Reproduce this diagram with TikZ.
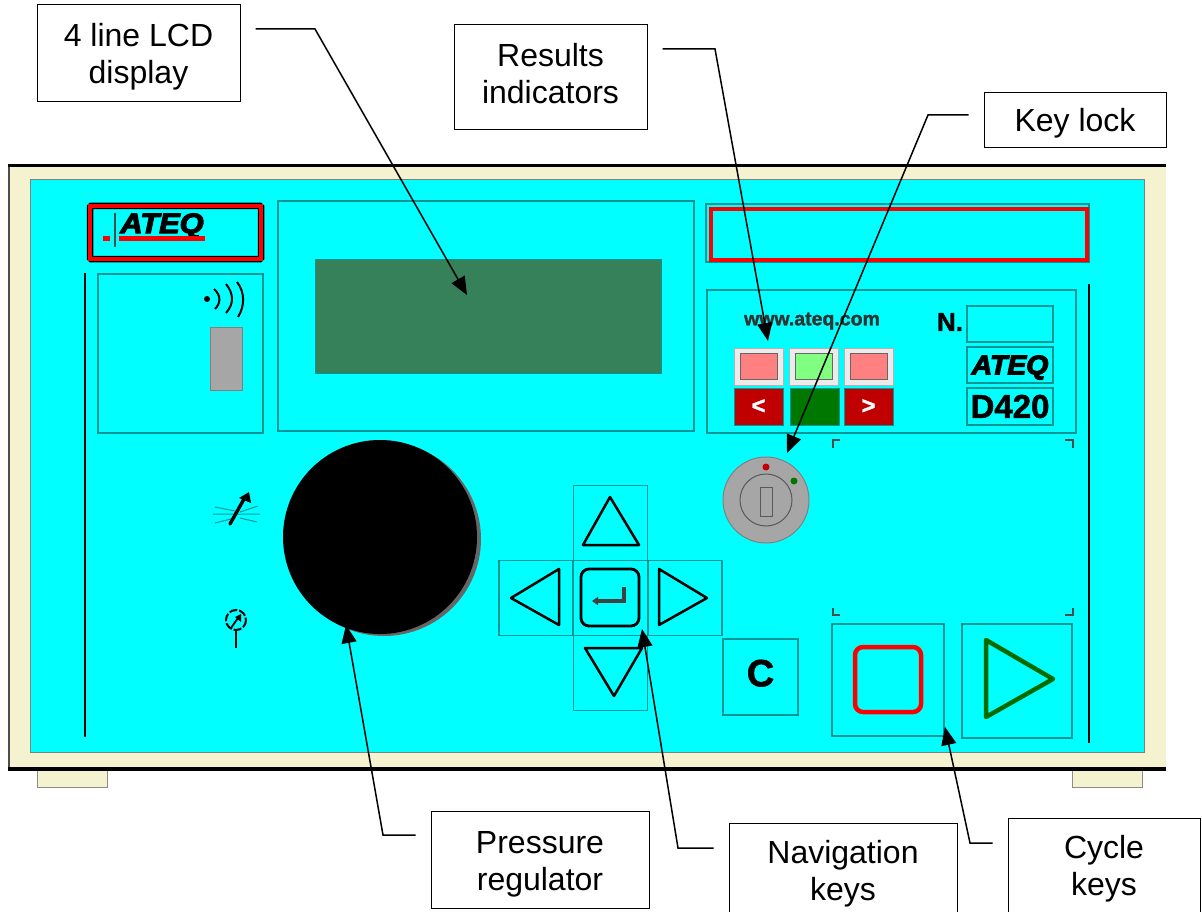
\documentclass[tikz,border=0pt]{standalone}
\usepackage{fontspec}
\usepackage{graphicx}
\setmainfont{Liberation Sans}
\newfontfamily\logofont[BoldFeatures={FakeBold=1.5},BoldItalicFeatures={FakeBold=4}]{Liberation Sans}
\usetikzlibrary{arrows.meta,positioning,calc}
\definecolor{panelcyan}{HTML}{00FFFF}
\definecolor{panelcream}{HTML}{F5F3CF}
\definecolor{paneledge}{HTML}{069494}
\definecolor{screengreen}{HTML}{37815A}
\definecolor{lampred}{HTML}{FF8080}
\definecolor{lampgreen}{HTML}{80FF80}
\definecolor{darkred}{HTML}{C00000}
\definecolor{darkgreen}{HTML}{007800}
\definecolor{keygray}{HTML}{A6A6A6}
\newcommand\notepad[1]{\rule{0pt}{#1pt}}
\newcommand\notefoot[1]{\rule[-#1pt]{0pt}{0pt}}

\begin{document}
\begin{tikzpicture}[x=1pt,y=-1pt,>={Triangle[length=18pt,width=15pt]}]
    \tikzset{note/.style={draw=black,line width=1pt,fill=white,align=center,inner sep=0pt,font=\fontsize{32}{37}\selectfont},
      callout/.style={->,line width=1.5pt,black,shorten <=15pt},
      frame/.style={draw=paneledge,line width=1.5pt,inner sep=0pt},
      glyph/.style={draw=black,line width=2.5pt,line join=round},
      lamp/.style={draw=gray!60,fill=black!8,line width=1pt,minimum width=49pt,minimum height=37pt,inner sep=0pt},
      lens/.style={draw=black!60,line width=1pt,minimum width=37pt,minimum height=26pt,inner sep=0pt},
      tag/.style={draw=paneledge,line width=1pt,minimum width=49pt,minimum height=37pt,inner sep=0pt,text=white,font=\logofont\bfseries\fontsize{24}{24}\selectfont}}
    \useasboundingbox (0,0) rectangle (1202,912);
    \clip (0,0) rectangle (1202,912);

    % case
    \node[draw=black!45,fill=panelcream,line width=1pt,minimum width=70pt,minimum height=19pt,inner sep=0pt] (footl) at (72,778) {};
    \node[draw=black!45,fill=panelcream,line width=1pt,minimum width=70pt,minimum height=19pt,inner sep=0pt] (footr) at (1107,778) {};
    \fill[panelcream] (9,166) rectangle (1166,768);
    \draw[black!70,line width=1.2pt] (9,166) -- (9,768);
    \draw[black,line width=3pt] (8,166) -- (1166,166);
    \draw[black,line width=4pt] (8,768.5) -- (1166,768.5);
    \draw[draw=gray,fill=panelcyan,line width=1pt] (30,180) rectangle (1144,752);
    \draw[black,line width=2.8pt] (85,273) -- (85,737);
    \draw[black,line width=2.8pt] (1089,284) -- (1089,743);

    % logo
    \draw[black,line width=6.5pt,rounded corners=1pt] (90,206) rectangle (261,259);
    \draw[red,line width=4pt] (90,206) rectangle (261,259);
    \fill[red] (103,236) rectangle (110,241);
    \draw[black!70,line width=2.4pt] (115,213) -- (115,247);
    \node[inner sep=0pt,font=\logofont\bfseries\itshape\fontsize{28}{28}\selectfont] (logo) at (162,226) {\scalebox{1.1}[1]{ATEQ}};
    \fill[red] (119,236) rectangle (205,241);

    % buzzer
    \draw[frame] (98,274) rectangle (263,433);
    \fill[black] (207,299) circle (3);
    \draw[black,line width=2pt] (214,289) .. controls (221,295) and (221,303) .. (215,309);
    \draw[black,line width=2pt] (226,284) .. controls (234,294) and (234,304) .. (226,313);
    \draw[black,line width=2pt] (237,282) .. controls (245,292) and (245,306) .. (238,317);
    \draw[draw=gray,fill=keygray,line width=1pt] (210,327) rectangle (242,390);

    % display
    \draw[frame] (278,201) rectangle (694,431);
    \node[draw=paneledge,fill=screengreen,line width=1pt,minimum width=346pt,minimum height=114pt,inner sep=0pt] (screen) at (488,316) {};
    \draw[frame] (706,204) rectangle (1089,262);
    \draw[red,line width=4pt] (711,209) rectangle (1087,260);

    % results
    \draw[frame] (707,290) rectangle (1076,433);
    \node[inner sep=0pt,text=black!80,font=\logofont\bfseries\fontsize{19.5}{20}\selectfont] (www) at (812,321) {www.ateq.com};
    \foreach \name/\x/\col in {lo/758.5/lampred,ok/814/lampgreen,hi/868.5/lampred}{
      \node[lamp] (\name) at (\x,366.5) {};
      \node[lens,fill=\col] at (\name) {};
    }
    \node[tag,fill=darkred] (lotag) at (758.5,406.5) {<};
    \node[tag,fill=darkgreen] (oktag) at (815,406.5) {};
    \node[tag,fill=darkred] (hitag) at (868.5,406.5) {>};
    \node[inner sep=0pt,font=\logofont\bfseries\fontsize{26}{26}\selectfont] (serial) at (950,322) {N.};
    \node[frame,minimum width=86pt,minimum height=36pt] (serialbox) at (1010,324) {};
    \node[frame,minimum width=86pt,minimum height=36pt,font=\logofont\bfseries\itshape\fontsize{27}{27}\selectfont] (ateq) at (1010,365) {\notepad{24}\scalebox{1.05}[1]{ATEQ}};
    \node[frame,minimum width=86pt,minimum height=37pt,font=\logofont\bfseries\fontsize{33}{33}\selectfont] (model) at (1010,406.5) {D420};
    \draw[black!70,line width=1.2pt] (840,440) -- (833,440) -- (833,448);
    \draw[black!70,line width=1.2pt] (1065,440) -- (1073,440) -- (1073,448);
    \draw[black!70,line width=1.2pt] (833,608) -- (833,615) -- (840,615);
    \draw[black!70,line width=1.2pt] (1073,608) -- (1073,615) -- (1065,615);

    % key lock
    \node[circle,draw=gray,fill=keygray,line width=1pt,minimum size=86pt,inner sep=0pt] (lock) at (766,500) {};
    \node[circle,draw=black!65,line width=1pt,minimum size=52pt,inner sep=0pt] (lockcore) at (lock) {};
    \draw[draw=black!65,line width=1pt] (760,487) rectangle (772,516);
    \fill[darkred] (766,467) circle (3.5);
    \fill[darkgreen] (794,481) circle (3.5);

    % regulator
    \fill[black!60] (384,539) circle (97);
    \node[circle,fill=black,minimum size=194pt,inner sep=0pt] (knob) at (380,537) {};
    \draw[paneledge,line width=1pt] (213,514) -- (260,514) (215,507) -- (235,511) (215,523) -- (235,518) (258,506) -- (240,512) (257,522) -- (240,518);
    \draw[black,line width=3.4pt,line cap=round] (230,524) -- (244,499);
    \fill[black] (239,498) -- (249,492) -- (251,503) -- cycle;
    \draw[black,line width=2pt,dash pattern=on 8pt off 2pt] (236,620) circle (10);
    \draw[black,line width=1.8pt] (231,628) -- (238,618);
    \fill[black] (235,617) -- (241,614) -- (241,622) -- cycle;
    \draw[black,line width=2pt] (236,630) -- (236,648);

    % keys
    \foreach \name/\x/\y in {upkey/610.5/523,leftkey/536/598,enterkey/610.5/598,rightkey/685/598,downkey/610.5/673}{
      \node[frame,minimum width=74pt,minimum height=75pt] (\name) at (\x,\y) {};
    }
    \draw[glyph] (610,497) -- (583,545) -- (639,545) -- cycle;
    \draw[glyph] (511,598) -- (559,569) -- (559,625) -- cycle;
    \draw[glyph] (659,569) -- (707,598) -- (659,625) -- cycle;
    \draw[glyph] (585,648) -- (642,648) -- (614,696) -- cycle;
    \draw[black,line width=2.8pt,rounded corners=8pt] (581,569) rectangle (639,626);
    \draw[black!75,line width=3.4pt,-{Triangle[length=6pt,width=8pt]}] (624,587) -- (624,601) -- (592,601);
    \node[frame,minimum width=75pt,minimum height=76pt,font=\logofont\bfseries\fontsize{38}{38}\selectfont] (clearkey) at (760.5,677) {C\notefoot{8}};
    \node[frame,minimum width=112pt,minimum height=112pt] (stopkey) at (888,680) {};
    \node[frame,minimum width=110pt,minimum height=114pt] (startkey) at (1017,681) {};
    \draw[red,line width=4.5pt,rounded corners=8pt] (855,647) rectangle (921,712);
    \draw[darkgreen!90!black,line width=4.5pt,line join=round] (986,640) -- (1053,679) -- (986,717) -- cycle;

    % notes
    \node[note,minimum width=203pt,minimum height=97pt] (lcdnote) at (138.5,53.5) {\notepad{30.3}4 line LCD\\display};
    \node[note,minimum width=193pt,minimum height=105pt] (resultnote) at (550.5,77.5) {Results\\indicators\notefoot{8}};
    \node[note,minimum width=182pt,minimum height=55pt] (locknote) at (1075,120.5) {\notepad{29.3}Key lock};
    \node[note,minimum width=218pt,minimum height=97pt] (pressurenote) at (540,859.5) {\notepad{31.3}Pressure\\regulator};
    \node[note,minimum width=228pt,minimum height=95pt] (navnote) at (843,870.5) {\notepad{29.3}Navigation\\keys};
    \node[note,minimum width=192pt,minimum height=96pt] (cyclenote) at (1104,866) {\notepad{29.3}Cycle\\keys};

    \coordinate (lcdbend) at (315,29);
    \coordinate (lcdtip) at (467,295);
    \coordinate (resultbend) at (715,49);
    \coordinate (resulttip) at (768,341);
    \coordinate (lockbend) at (928,115);
    \coordinate (locktip) at (787,453);
    \coordinate (pressurebend) at (383,835);
    \coordinate (pressuretip) at (346,625);
    \coordinate (navbend) at (678,848);
    \coordinate (navtip) at (642,629);
    \coordinate (cyclebend) at (970,843);
    \coordinate (cycletip) at (945,727);
    \draw[callout] (lcdnote.east |- lcdbend) -- (lcdbend) -- (lcdtip);
    \draw[callout] (resultnote.east |- resultbend) -- (resultbend) -- (resulttip);
    \draw[callout] (locknote.west |- lockbend) -- (lockbend) -- (locktip);
    \draw[callout] (pressurenote.west |- pressurebend) -- (pressurebend) -- (pressuretip);
    \draw[callout] (navnote.west |- navbend) -- (navbend) -- (navtip);
    \draw[callout] (cyclenote.west |- cyclebend) -- (cyclebend) -- (cycletip);
  \end{tikzpicture}
\end{document}
